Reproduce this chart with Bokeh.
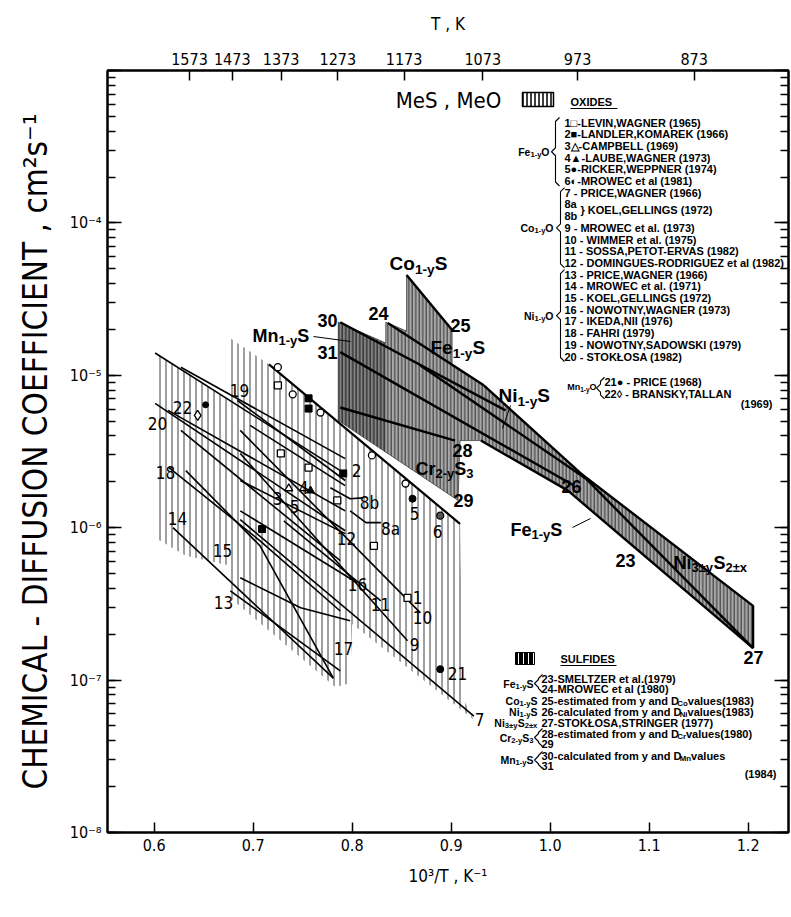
import numpy as np
from bokeh.plotting import figure
from bokeh.models import (Range1d, LinearAxis, LogAxis, FixedTicker, LogTicker,
                          CustomJSTickFormatter)
from bokeh.core.properties import value
from bokeh.embed import file_html
from bokeh.resources import INLINE

# ---------------- data : x = 10^3/T (K^-1), D = chemical diffusion coefficient (cm2/s) ----------------
T_TICKS = [1573, 1473, 1373, 1273, 1173, 1073, 973, 873]
X_TICKS = [0.6, 0.7, 0.8, 0.9, 1.0, 1.1, 1.2]

# hatched field covered by the oxide data
oxide_field_x = [0.601, 0.675, 0.677, 0.716, 0.909, 0.912, 0.923, 0.800, 0.798, 0.783, 0.677, 0.677, 0.632, 0.601]
oxide_field_D = [1.40e-5, 6.85e-6, 1.75e-5, 1.18e-5, 1.06e-6, 7.6e-8, 5.5e-8, 2.33e-7, 9.55e-8, 9.0e-8, 3.46e-7, 5.62e-7, 6.55e-7, 8.6e-7]

# field covered by the sulfide data
sulfide_field_x = [0.786, 0.834, 0.834, 0.855, 0.855, 0.901, 0.901, 0.933, 1.031, 1.205, 1.205, 1.018, 0.930, 0.909, 0.907, 0.786]
sulfide_field_D = [2.23e-5, 1.63e-5, 2.23e-5, 1.95e-5, 4.55e-5, 1.98e-5, 1.15e-5, 8.6e-6, 2.27e-6, 3.07e-7, 1.62e-7, 1.75e-6, 3.73e-6, 3.73e-6, 1.51e-6, 5.06e-6]
mn_block_x = [0.786, 0.834, 0.834, 0.786]
mn_block_D = [2.23e-5, 1.63e-5, 3.11e-6, 5.06e-6]

# oxide lines
ni_a_x, ni_a_D = [0.601, 0.788], [1.40e-5, 2.37e-6]
ni_b_x, ni_b_D = [0.627, 0.793], [1.13e-5, 2.84e-6]
ox19_x, ox19_D = [0.684, 0.793], [6.85e-6, 2.04e-6]
ox22_x, ox22_D = [0.614, 0.793], [5.89e-6, 1.29e-6]
ox20_x, ox20_D = [0.601, 0.793], [6.55e-6, 9.55e-7]
ni_c_x, ni_c_D = [0.627, 0.788], [4.35e-6, 6.07e-7]
ox18_x, ox18_D = [0.615, 0.707, 0.788], [2.48e-6, 8.2e-7, 2.84e-7]
ox15_x, ox15_D = [0.632, 0.707, 0.781], [2.37e-6, 7.6e-7, 1.03e-7]
ox14_x, ox14_D = [0.619, 0.781], [1.0e-6, 1.03e-7]
ox13_x, ox13_D = [0.677, 0.788], [3.85e-7, 1.15e-7]
ox17_x, ox17_D = [0.687, 0.748, 0.798], [4.69e-7, 2.98e-7, 2.45e-7]
ox10_x, ox10_D = [0.687, 0.869], [4.35e-6, 2.76e-7]
ox9_x, ox9_D = [0.687, 0.856], [3.07e-6, 1.81e-7]
ox7_x, ox7_D = [0.687, 0.923], [1.13e-6, 5.8e-8]
ox11_x, ox11_D = [0.731, 0.829], [1.11e-6, 3.31e-7]
ox12_x, ox12_D = [0.687, 0.793], [2.04e-6, 9.14e-7]
ox16_x, ox16_D = [0.687, 0.805], [1.29e-6, 4.35e-7]
ox8b_x, ox8b_D = [0.778, 0.798, 0.811], [1.83e-6, 1.55e-6, 1.57e-6]
ox8a_x, ox8a_D = [0.798, 0.814, 0.829], [1.29e-6, 1.08e-6, 1.08e-6]
fe_top_x, fe_top_D = [0.716, 0.909], [1.18e-5, 1.06e-6]
fe2_x, fe2_D = [0.697, 0.793], [4.69e-6, 1.89e-6]

# sulfide lines
s30_x, s30_D = [0.788, 0.955], [2.23e-5, 5.89e-6]
s31_x, s31_D = [0.788, 1.024], [1.42e-5, 1.89e-6]
s28_x, s28_D = [0.788, 0.904], [6.15e-6, 3.73e-6]
s24_x, s24_D = [0.836, 0.933], [2.20e-5, 8.6e-6]
s25_x, s25_D = [0.855, 0.901], [4.55e-5, 1.98e-5]
s26_x, s26_D = [0.869, 1.036], [1.16e-5, 2.10e-6]
band_top_x, band_top_D = [0.933, 1.031, 1.205, 1.205], [8.6e-6, 2.27e-6, 3.07e-7, 1.62e-7]
s23_x, s23_D = [0.930, 1.018, 1.205], [3.73e-6, 1.75e-6, 1.62e-7]
s27_x, s27_D = [1.031, 1.205], [2.27e-6, 1.62e-7]

# experimental points (oxides)
open_circ_x, open_circ_D = [0.725, 0.740, 0.768, 0.820, 0.854], [1.13e-5, 7.5e-6, 5.7e-6, 2.98e-6, 1.95e-6]
pt1_x, pt1_D = [0.725, 0.728, 0.756, 0.785, 0.822, 0.856], [8.6e-6, 3.07e-6, 2.48e-6, 1.51e-6, 7.6e-7, 3.46e-7]
pt2_x, pt2_D = [0.756, 0.756, 0.791, 0.709], [7.06e-6, 6.05e-6, 2.27e-6, 9.8e-7]
pt3_x, pt3_D = [0.736], [1.81e-6]
pt4_x, pt4_D = [0.758], [1.75e-6]
pt5_x, pt5_D = [0.861], [1.55e-6]
pt6_x, pt6_D = [0.889], [1.20e-6]
pt21_x, pt21_D = [0.889], [1.18e-7]
pt22_x, pt22_D = [0.644], [5.46e-6]
pt22b_x, pt22b_D = [0.652], [6.4e-6]

OXIDE_REFS = ["1\u25a1-LEVIN,WAGNER (1965)", "2\u25a0-LANDLER,KOMAREK (1966)", "3\u25b3-CAMPBELL (1969)",
              "4\u25b2-LAUBE,WAGNER (1973)", "5\u25cf-RICKER,WEPPNER (1974)", "6\u25d0-MROWEC et al (1981)",
              "7 - PRICE,WAGNER (1966)", "8a", "8b", "9 - MROWEC et al. (1973)", "10 - WIMMER et al. (1975)",
              "11 - SOSSA,PETOT-ERVAS (1982)", "12 - DOMINGUES-RODRIGUEZ et al (1982)",
              "13 - PRICE,WAGNER (1966)", "14 - MROWEC et al. (1971)", "15 - KOEL,GELLINGS (1972)",
              "16 - NOWOTNY,WAGNER (1973)", "17 - IKEDA,NII (1976)", "18 - FAHRI (1979)",
              "19 - NOWOTNY,SADOWSKI (1979)", "20 - STOK\u0141OSA (1982)"]

# ---------------- layout helpers ----------------
NARROW = "'Liberation Sans Narrow', 'DejaVu Sans Condensed', 'Liberation Sans', sans-serif"
SANS = "'Liberation Sans', Arial, sans-serif"

XL, XR = 0.5529, 1.2408
YB, YT = 1e-8, 1e-3
FL, FR, FT, FB = 107.0, 788.0, 70.0, 832.0


def dx(X):
    return XL + (X - FL) / (FR - FL) * (XR - XL)


def dy(Y):
    return 10 ** (-3.0 - (Y - FT) / (FB - FT) * 5.0)


p = figure(width=791, height=917, x_range=Range1d(XL, XR), y_range=Range1d(YB, YT),
           y_axis_type="log", output_backend="svg", toolbar_location=None,
           min_border_left=107, min_border_right=3, min_border_top=70, min_border_bottom=85)
p.grid.visible = False
p.outline_line_color = "black"
p.outline_line_width = 2
p.background_fill_color = "white"
p.border_fill_color = "white"

# bottom axis
xa = p.xaxis[0]
xa.ticker = FixedTicker(ticks=X_TICKS, minor_ticks=[])
xa.formatter = CustomJSTickFormatter(code="return tick.toFixed(1)")
xa.axis_label = "10\u00b3/T , K\u207b\u00b9"
# left axis
ya = p.yaxis[0]
ya.ticker = LogTicker(num_minor_ticks=10)
ya.formatter = CustomJSTickFormatter(code="""
const e = Math.round(Math.log10(tick));
if (e >= -3) return "";
const sup = {"-":"\u207b","0":"\u2070","1":"\u00b9","2":"\u00b2","3":"\u00b3","4":"\u2074","5":"\u2075","6":"\u2076","7":"\u2077","8":"\u2078","9":"\u2079"};
return "10" + String(e).split("").map(c => sup[c]).join("");
""")
ya.axis_label = "CHEMICAL - DIFFUSION COEFFICIENT , cm\u00b2s\u207b\u00b9"

ta = LinearAxis(ticker=FixedTicker(ticks=[1000.0 / t for t in T_TICKS], minor_ticks=[]),
                formatter=CustomJSTickFormatter(code="return String(Math.round(1000/tick))"))
ta.axis_label = "T , K"
p.add_layout(ta, "above")
ra = LogAxis(ticker=LogTicker(num_minor_ticks=10), formatter=CustomJSTickFormatter(code="return ''"))
p.add_layout(ra, "right")

for ax in [xa, ya, ta, ra]:
    ax.axis_line_width = 2
    ax.axis_line_color = "black"
    ax.major_tick_line_color = "black"
    ax.minor_tick_line_color = "black"
    ax.major_tick_out = 0
    ax.minor_tick_out = 0
    ax.major_tick_line_width = 1.5
    ax.minor_tick_line_width = 1.5
    ax.major_label_text_font = NARROW
    ax.major_label_text_font_size = "16px"
    ax.major_label_text_color = "black"
    ax.major_label_standoff = 6
    ax.axis_label_text_font = NARROW
    ax.axis_label_text_font_style = "normal"
    ax.axis_label_text_color = "black"
    ax.axis_label_text_font_size = "17px"
for ax in [xa, ta]:
    ax.major_tick_in = 10
for ax in [ya, ra]:
    ax.major_tick_in = 14
    ax.minor_tick_in = 8
ya.axis_label_text_font_size = "33px"
ya.axis_label_standoff = 12
ta.axis_label_standoff = 16
xa.axis_label_standoff = 12
ra.major_label_text_font_size = "0px"
ra.major_label_standoff = 0

# ---------------- fields ----------------
p.patch(oxide_field_x, oxide_field_D, fill_color="white", line_color=None,
        hatch_pattern="vertical_line", hatch_color="black", hatch_weight=1.0, hatch_scale=6, hatch_alpha=0.75)
p.patch(sulfide_field_x, sulfide_field_D, fill_color="#a8a8a8", line_color="#444444", line_width=0.8,
        hatch_pattern="vertical_line", hatch_color="#2a2a2a", hatch_weight=1.2, hatch_scale=3.5, hatch_alpha=0.8)
p.patch(mn_block_x, mn_block_D, fill_color="#707070", line_color=None, fill_alpha=0.7,
        hatch_pattern="vertical_line", hatch_color="#202020", hatch_weight=1.2, hatch_scale=3.5, hatch_alpha=0.8)

oxide_lines = [(ni_a_x, ni_a_D), (ni_b_x, ni_b_D), (ox19_x, ox19_D), (ox22_x, ox22_D), (ox20_x, ox20_D),
               (ni_c_x, ni_c_D), (ox18_x, ox18_D), (ox15_x, ox15_D), (ox14_x, ox14_D), (ox13_x, ox13_D),
               (ox17_x, ox17_D), (ox10_x, ox10_D), (ox9_x, ox9_D), (ox7_x, ox7_D), (ox11_x, ox11_D),
               (ox12_x, ox12_D), (ox16_x, ox16_D), (ox8b_x, ox8b_D), (ox8a_x, ox8a_D), (fe2_x, fe2_D)]
for lx, lD in oxide_lines:
    p.line(lx, lD, line_color="black", line_width=1.6)
p.line(fe_top_x, fe_top_D, line_color="black", line_width=2.2)

sulfide_lines = [(s30_x, s30_D), (s31_x, s31_D), (s28_x, s28_D), (s24_x, s24_D), (s25_x, s25_D),
                 (s26_x, s26_D), (band_top_x, band_top_D), (s23_x, s23_D), (s27_x, s27_D)]
for lx, lD in sulfide_lines:
    p.line(lx, lD, line_color="black", line_width=2.4)

# ---------------- points ----------------
MS = 7
p.scatter(open_circ_x, open_circ_D, marker="circle", size=MS, fill_color="white", line_color="black", line_width=1.3)
p.scatter(pt1_x, pt1_D, marker="square", size=MS, fill_color="white", line_color="black", line_width=1.3)
p.scatter(pt2_x, pt2_D, marker="square", size=MS, fill_color="black", line_color="black")
p.scatter(pt3_x, pt3_D, marker="triangle", size=MS + 1, fill_color="white", line_color="black", line_width=1.3)
p.scatter(pt4_x, pt4_D, marker="triangle", size=MS + 1, fill_color="black", line_color="black")
p.scatter(pt5_x, pt5_D, marker="circle", size=MS, fill_color="black", line_color="black")
p.scatter(pt6_x, pt6_D, marker="circle", size=MS, fill_color="#555555", line_color="black", line_width=1.3)
p.scatter(pt21_x, pt21_D, marker="circle", size=MS, fill_color="black", line_color="black")
p.scatter(pt22_x, pt22_D, marker="diamond", size=MS + 3, fill_color="white", line_color="black", line_width=1.3)
p.scatter(pt22b_x, pt22b_D, marker="circle", size=MS - 1, fill_color="black", line_color="black")

# ---------------- text helpers ----------------
AW = {'C': .722, 'o': .611, 'F': .611, 'e': .556, 'N': .722, 'i': .278, 'M': .833, 'n': .611, 'r': .389,
      'S': .667, 'y': .556, '-': .333, '\u00b1': .584, 'x': .556, ' ': .278, 'O': .778, 't': .333,
      'm': .889, 'a': .556, 'd': .611, 'f': .333, 'l': .278, 'u': .611, 'c': .556, 's': .556,
      'v': .556, '(': .333, ')': .333}


def tw(s, size):
    return sum(AW.get(c, .556) for c in s) * size


def txt(X, Y, s, size, font=NARROW, style="normal", align="center", baseline="middle"):
    p.text(x=[dx(X)], y=[dy(Y)], text=[s], text_font=value(font), text_font_size=f"{size}px",
           text_font_style=style, text_align=align, text_baseline=baseline, text_color="black")


def formula(X, Y, parts, size, align="left", font=SANS):
    sub = 0.72
    widths = [tw(t, size * (sub if m else 1.0)) for t, m in parts]
    total = sum(widths)
    x0 = X - total if align == "right" else (X - total / 2 if align == "center" else X)
    for (t, m), w in zip(parts, widths):
        fs = size * sub if m else size
        p.text(x=[dx(x0)], y=[dy(Y)], text=[t], text_font=value(font), text_font_size=f"{fs:.1f}px",
               text_font_style="bold", text_align="left", text_baseline="middle",
               y_offset=size * 0.3 if m else 0)
        x0 += w


def seg(pts, width=1.2):
    p.line([dx(a) for a, b in pts], [dy(b) for a, b in pts], line_color="black", line_width=width)


def brace(X, Y0, Y1, w=4, right=False):
    s = -1 if right else 1
    ym = (Y0 + Y1) / 2
    seg([(X + s * w, Y0), (X, Y0 + w), (X, ym - w), (X - s * w, ym), (X, ym + w), (X, Y1 - w), (X + s * w, Y1)], 1.1)


# ---------------- labels inside the oxide field ----------------
OX_NUMS = [("20", 157, 423), ("22", 182, 407), ("18", 165, 472), ("14", 177, 518), ("19", 239, 390),
           ("15", 222, 550), ("13", 223, 602), ("3", 277, 498), ("5", 294, 506), ("4", 303, 487),
           ("2", 356, 470), ("8b", 369, 502), ("8a", 390, 528), ("5", 414, 513), ("6", 437, 531),
           ("12", 346, 538), ("16", 357, 584), ("11", 380, 604), ("10", 422, 617), ("1", 417, 597),
           ("9", 414, 644), ("17", 343, 648), ("21", 457, 673), ("7", 479, 719)]
for s, X, Y in OX_NUMS:
    txt(X, Y, s, 17)

# sulfide numbers
SU_NUMS = [("30", 327, 320), ("31", 327, 352), ("24", 378, 313), ("25", 460, 325), ("28", 462, 450),
           ("29", 463, 500), ("26", 571, 486), ("23", 625, 560), ("27", 753, 657)]
for s, X, Y in SU_NUMS:
    txt(X, Y, s, 18, font=SANS, style="bold")

formula(418, 263, [("Co", 0), ("1-y", 1), ("S", 0)], 19, align="center")
formula(430, 347, [("Fe", 0), ("1-y", 1), ("S", 0)], 19)
formula(252, 335, [("Mn", 0), ("1-y", 1), ("S", 0)], 18)
formula(415, 468, [("Cr", 0), ("2-y", 1), ("S", 0), ("3", 1)], 18)
formula(498, 395, [("Ni", 0), ("1-y", 1), ("S", 0)], 19)
formula(510, 529, [("Fe", 0), ("1-y", 1), ("S", 0)], 18)
formula(673, 562, [("Ni", 0), ("3\u00b1y", 1), ("S", 0), ("2\u00b1x", 1)], 18)
seg([(313, 336), (350, 341)], 1.0)
seg([(572, 527), (590, 518)], 1.0)
seg([(510, 405), (502, 428)], 1.0)

txt(448, 100, "MeS , MeO", 22)

# ---------------- oxide legend ----------------
LF = 11
p.quad(left=[dx(522)], right=[dx(553)], top=[dy(92)], bottom=[dy(106)], fill_color="white", line_color="black",
       line_width=1.5, hatch_pattern="vertical_line", hatch_color="black", hatch_scale=4, hatch_weight=1.5)
txt(570, 101, "OXIDES", 11, font=SANS, style="bold", align="left")
seg([(570, 108), (617, 108)], 1.0)
ROW0, ROWH = 122.0, 11.7
for i, s in enumerate(OXIDE_REFS):
    Y = ROW0 + i * ROWH
    txt(564, Y, s, LF, font=SANS, style="bold", align="left")
txt(580, ROW0 + 7.5 * ROWH, "} KOEL,GELLINGS (1972)", LF, font=SANS, style="bold", align="left")
formula(549, ROW0 + 2.5 * ROWH, [("Fe", 0), ("1-y", 1), ("O", 0)], 10.5, align="right")
formula(553, ROW0 + 9 * ROWH, [("Co", 0), ("1-y", 1), ("O", 0)], 10.5, align="right")
formula(553, ROW0 + 16.5 * ROWH, [("Ni", 0), ("1-y", 1), ("O", 0)], 10.5, align="right")
brace(555, ROW0 - 5, ROW0 + 5 * ROWH + 5)
brace(560, ROW0 + 6 * ROWH - 5, ROW0 + 12 * ROWH + 5)
brace(560, ROW0 + 13 * ROWH - 5, ROW0 + 20 * ROWH + 5)
YM = ROW0 + 22.2 * ROWH
formula(596, YM + 5, [("Mn", 0), ("1-y", 1), ("O", 0)], 9, align="right")
brace(600, YM - 5, YM + ROWH + 5)
txt(604, YM, "21\u25cf - PRICE (1968)", LF, font=SANS, style="bold", align="left")
txt(604, YM + ROWH, "22\u25ca - BRANSKY,TALLAN", LF, font=SANS, style="bold", align="left")
txt(772, YM + 2 * ROWH - 2, "(1969)", LF, font=SANS, style="bold", align="right")

# ---------------- sulfide legend ----------------
SF = 11
p.quad(left=[dx(515)], right=[dx(534)], top=[dy(652)], bottom=[dy(664)], fill_color="black", line_color="black",
       hatch_pattern="vertical_line", hatch_color="white", hatch_scale=5, hatch_weight=1.0)
txt(560, 658, "SULFIDES", 11, font=SANS, style="bold", align="left")
seg([(560, 665), (616, 665)], 1.0)
formula(533, 683, [("Fe", 0), ("1-y", 1), ("S", 0)], 10.5, align="right")
brace(538, 674, 692)
txt(541, 678, "23-SMELTZER et al.(1979)", SF, font=SANS, style="bold", align="left")
txt(541, 688, "24-MROWEC et al (1980)", SF, font=SANS, style="bold", align="left")
formula(537, 700, [("Co", 0), ("1-y", 1), ("S", 0)], 10.5, align="right")
formula(541, 700, [("25-estimated from y and D", 0), ("Co", 1), (" values(1983)", 0)], SF)
formula(537, 711, [("Ni", 0), ("1-y", 1), ("S", 0)], 10.5, align="right")
formula(541, 711, [("26-calculated from y and D", 0), ("Ni", 1), (" values(1983)", 0)], SF)
formula(537, 722, [("Ni", 0), ("3\u00b1y", 1), ("S", 0), ("2\u00b1x", 1)], 10.5, align="right")
txt(541, 722, "27-STOK\u0141OSA,STRINGER (1977)", SF, font=SANS, style="bold", align="left")
formula(533, 737, [("Cr", 0), ("2-y", 1), ("S", 0), ("3", 1)], 10.5, align="right")
brace(538, 728, 746)
formula(541, 733, [("28-estimated from y and D", 0), ("Cr", 1), (" values(1980)", 0)], SF)
txt(541, 743, "29", SF, font=SANS, style="bold", align="left")
formula(533, 759, [("Mn", 0), ("1-y", 1), ("S", 0)], 10.5, align="right")
brace(538, 751, 768)
formula(541, 755, [("30-calculated from y and D", 0), ("Mn", 1), (" values", 0)], SF)
txt(541, 765, "31", SF, font=SANS, style="bold", align="left")
txt(776, 773, "(1984)", SF, font=SANS, style="bold", align="right")

open("out.html", "w").write(file_html(p, INLINE))
